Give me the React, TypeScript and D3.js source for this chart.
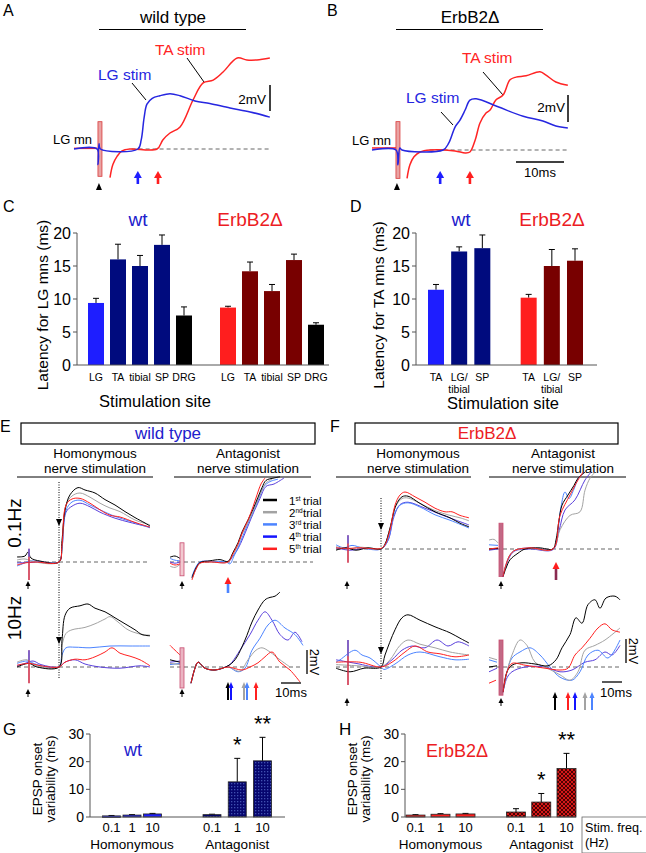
import * as d3 from 'd3'

const FONT = '"Liberation Sans", Arial, Helvetica, sans-serif'

const BLUE = '#1e1eff'
const NAVY = '#000b7e'
const RED = '#ff1e1e'
const DARKRED = '#780000'
const TXT_BLUE = '#2020cc'
const TXT_RED = '#ec1c24'
const TRACE_BLUE = '#2626e0'
const TRACE_RED = '#ff2424'
// trial colours: 1st..5th
const TRIAL = ['#000000', '#a3a3a3', '#4c84ff', '#5a40dc', '#ff2020']
const LEGEND_COL = ['#000000', '#a3a3a3', '#4c84ff', '#1414ff', '#ff2020']
const TRIAL_SUP = ['st', 'nd', 'rd', 'th', 'th']

// ---- panel C: latency for LG mns (ms)
const cSites = ['LG', 'TA', 'tibial', 'SP', 'DRG']
const cWt = [9.4, 16.0, 15.0, 18.2, 7.5]
const cWtTop = [10.1, 18.3, 16.6, 19.7, 8.8]
const cMut = [8.7, 14.2, 11.2, 15.9, 6.1]
const cMutTop = [8.9, 15.6, 12.2, 16.8, 6.4]

// ---- panel D: latency for TA mns (ms)
const dSites = ['TA', 'LG/\ntibial', 'SP']
const dWt = [11.4, 17.2, 17.7]
const dWtTop = [12.2, 17.9, 19.7]
const dMut = [10.2, 15.0, 15.8]
const dMutTop = [10.7, 17.5, 17.6]

// ---- panels G / H: EPSP onset variability (ms)
const freqs = ['0.1', '1', '10']
const gHom = [0.4, 0.7, 1.1]
const gHomTop = [0.55, 0.85, 1.3]
const gAnt = [0.85, 12.7, 20.3]
const gAntTop = [1.0, 21.2, 28.8]
const hHom = [0.7, 1.0, 1.1]
const hHomTop = [0.85, 1.2, 1.3]
const hAnt = [1.8, 5.4, 17.5]
const hAntTop = [3.0, 8.5, 23.0]

// ---- panels A / B traces  [ms, mV]
const aBlue = [[[0, 0], [4.8, 0], [5.0, -1.2], [5.2, 0.4], [5.5, 0], [13.3, 0], [14.0, 0.7], [14.6, 2.4], [15.2, 3.45], [16.3, 3.9], [17.9, 4.1], [20, 4.25], [22.1, 4.1], [25.2, 3.7], [28.3, 3.5], [32.5, 3.15], [36.7, 2.85], [40.8, 2.45]]]
const aRed = [[[0, 0.05], [4.8, 0.05]], [[7.5, -2.2], [8.1, -1.2], [9.0, -0.55], [10, -0.15], [11.7, 0], [17.3, 0], [18.5, 0.7], [20, 1.23], [22.1, 1.7], [24.8, 3.77], [26.9, 5.08], [29, 5.3], [31, 5.9], [34, 7.0], [36, 6.85], [38.1, 6.85], [40.8, 7.0]]]
const bBlue = [[[0, 0], [5, 0], [5.4, -1.1], [5.8, 0.15], [6.25, 0], [14.8, 0], [16, 0.52], [17.3, 1.7], [18.3, 2.2], [19.4, 2.96], [20.4, 3.7], [21.7, 3.8], [26.25, 3.2], [31.5, 2.5], [35.6, 2.15], [38.3, 1.78], [40.8, 1.63]]]
const bRed = [[[0, 0.15], [5, 0.15]], [[7.3, -2.1], [7.9, -1.1], [8.75, -0.5], [10, -0.15], [12.1, 0], [17.3, -0.07], [19.4, -0.22], [20.4, -0.15], [21.5, 0.74], [22.5, 2.0], [23.75, 2.74], [24.6, 2.96], [25.8, 3.7], [27.3, 4.07], [28.75, 5.2], [30, 5.4], [32.1, 5.5], [35, 5.8], [36.25, 5.55], [38.3, 5.04], [40.8, 4.8]]]
const aOnsets = [13.3, 17.5]
const bOnsets = [14.2, 20.4]

// ---- panels E / F traces, one entry per trial (1st..5th), each a list of segments [ms, mV]
const eHom01 = [
  [[[0, 0.42], [4, 0.5], [5.5, 0.83], [7, 0.33], [11.5, 0.08], [21, 0], [22.5, 1.8], [24, 4.3], [26.5, 5.6], [30.5, 6.2], [34, 6.0], [39, 5.75], [44, 5.2], [49, 4.75], [54, 4.2], [59, 3.7], [64, 3.25], [66.5, 3]]],
  [[[0, 0.17], [4, 0.25], [9, 0], [21, 0], [22.5, 1.4], [24.5, 4.75], [27.5, 5.5], [31.5, 5.75], [36.5, 5.4], [41.5, 4.9], [46.5, 4.5], [51.5, 4.2], [59, 3.5], [66.5, 3.1]]],
  [[[0, -0.33], [2.5, -0.17], [6.5, 0.08], [21, 0], [22.5, 1.2], [24.5, 4.3], [27.5, 5.0], [31.5, 5.15], [36.5, 4.75], [41.5, 4.35], [49, 3.8], [56.5, 3.4], [66.5, 2.85]]],
  [[[0, -0.08], [11.5, 0], [21, 0], [22.5, 1.1], [24.5, 4.15], [27.5, 4.65], [31.5, 4.9], [36.5, 4.6], [41.5, 4.15], [49, 3.65], [56.5, 3.3], [66.5, 2.9]]],
  [[[0, -0.25], [4, -0.08], [9, 0], [21, 0], [22.5, 1.4], [24.5, 4.75], [27.5, 5.25], [31.5, 5.3], [36.5, 4.9], [41.5, 4.35], [46.5, 3.9], [51.5, 3.75], [59, 3.3], [66.5, 2.9]]],
]
const eAnt01 = [
  [[[0, 0.4], [2.5, 0.5], [5, 0.3]], [[11, -1.3], [13, -0.5], [15, -0.05], [20, 0.1], [25, 0.2], [29, 0.05], [31.5, 0.8], [34, 1.6], [36, 2.5], [39, 3.5], [41.5, 4.4], [44, 5.4], [46, 6.2], [48, 6.8], [52, 7.0], [55, 7.1]]],
  [[[0, -0.35], [2.5, -0.45], [5, -0.2]], [[11, -1.4], [13, -0.6], [15, -0.1], [20, 0], [29, 0], [31.5, 0.6], [34, 1.4], [36, 2.3], [39, 3.3], [41.5, 4.2], [44, 5.2], [46, 6.0], [48, 6.6], [51, 6.9]]],
  [[[0, 0.3], [2.5, 0.15], [5, 0.1]], [[11, -1.2], [13, -0.4], [15, 0], [20, 0.05], [28, 0], [30, -0.15], [32, 0.5], [34, 1.2], [36.5, 2.2], [39, 3.2], [42, 4.3], [44.5, 5.3], [47, 6.3], [50, 6.7], [54, 6.9]]],
  [[[0, 0], [2.5, -0.1], [5, 0]], [[11, -1.3], [13, -0.5], [15, 0], [20, 0.05], [29, 0], [31.5, 0.5], [34, 1.1], [36.5, 2.0], [39, 3.0], [42, 4.2], [45, 5.3], [48, 6.3], [52, 6.5], [57, 7.0]]],
  [[[0, -0.1], [2.5, -0.25], [5, -0.15]], [[11, -1.5], [13, -0.6], [15, -0.1], [20, 0], [29, 0], [31.5, 0.7], [34, 1.5], [36, 2.4], [39, 3.5], [41.5, 4.6], [43.5, 5.6], [45.5, 6.5], [47.5, 7.0]]],
]
const eHom10 = [
  [[[0, 0], [6, 0.3], [10, 0], [21, 0], [22.5, 2.25], [24, 4.3], [26.5, 4.9], [31.5, 5.1], [35.5, 5.25], [39, 4.9], [44, 4.6], [49, 4.1], [54, 3.6], [59, 3.1], [62.5, 2.7], [66.5, 2.6]]],
  [[[0, 0.4], [5, 0.6], [8, 0.2], [21, 0], [22.5, 1.8], [24.5, 2.8], [27.5, 3.1], [34, 3.3], [39, 3.6], [44, 4], [46.5, 4.2], [50.5, 3.75], [55.5, 3.1], [61.5, 2.75], [66.5, 2.65]]],
  [[[0, 0.3], [5, 0.5], [10, 0.2], [21, 0], [22.5, 1], [24.5, 1.6], [29, 1.65], [36.5, 1.6], [46.5, 1.75], [56.5, 1.75], [66.5, 1.75]]],
  [[[0, 0.1], [4, 0.3], [8, 0.5], [12, 0.2], [21, 0], [24, 0.4], [29, 0.6], [34, 0.25], [41.5, 0], [51.5, -0.1], [61.5, 0.1], [66.5, 0]]],
  [[[0, 0.15], [6, 0.3], [12, 0.1], [21, 0], [24, 0.4], [29, 0.65], [34, 0.6], [39, 0.85], [44, 1.25], [47.5, 1.6], [51.5, 1.15], [56.5, 0.9], [61.5, 0.6], [66.5, 0.1]]],
]
const eAnt10 = [
  [[[0, 0.6], [5, 0.4]], [[10.5, -1.35], [12.5, -0.1], [14, 0.4], [17.5, -0.1], [22.5, -0.25], [29, 0.1], [32.5, 0.6], [37.5, 2.25], [41, 3.75], [44, 4.75], [47.5, 5.6], [50, 5.8], [52.5, 5.9], [55, 6.25]]],
  [[[0, 0.3], [5, 0.2]], [[10.5, -1.35], [12.5, -0.1], [14, 0.4], [17.5, -0.1], [22.5, -0.25], [29, 0], [35, -0.35], [39, 0.6], [43, 1.4], [46, 1.6], [50, 1.25], [55, 0.6], [60, 0]]],
  [[[0, 0.2], [5, 0.3]], [[10.5, -1.35], [12.5, -0.1], [14, 0.4], [17.5, -0.1], [22.5, -0.25], [29, 0], [34, -0.4], [37.5, -0.1], [41, 1.4], [45, 2.4], [49, 3.5], [52.5, 3.9], [57.5, 3.25], [62.5, 2.7], [66.5, 1.8]]],
  [[[0, 0.4], [5, 0.5]], [[10.5, -1.35], [12.5, -0.1], [14, 0.4], [17.5, -0.1], [22.5, -0.25], [29, 0.1], [31, 0.4], [35, 1.4], [40, 2.7], [44, 3.9], [47.5, 4.6], [51, 3.9], [55, 2.7], [59, 2.25], [62.5, 2.9], [66, 2.1]]],
  [[[0, 1.8], [2.5, 1.4], [5, 1.0]], [[10.5, -1.35], [12.5, -0.1], [14, 0.4], [17.5, -0.1], [22.5, -0.25], [29, 0], [36, -0.25], [40, 0], [44, 0.35], [47.5, 0.85], [51, 1.25], [55, 0.4], [60, -0.25], [65, -1.25]]],
]
const fHom01 = [
  [[[0, -0.1], [5, 0.1], [10, -0.1], [16, 0.1], [22.5, 0], [24.5, 0.4], [27, 1.75], [30, 3.65], [33, 4.35], [36, 4.4], [42, 3.8], [49.5, 3.1], [57, 2.6], [62, 2.15], [66.5, 1.85]]],
  [[[0, 0.2], [6, 0], [12, 0.15], [22.5, 0], [24.5, 0.4], [27, 1.7], [30, 3.6], [33, 4.2], [36, 4.25], [42, 3.8], [49.5, 3.2], [57, 2.8], [62, 2.6], [66.5, 2.35]]],
  [[[0, 0.35], [4, 0.1], [8, 0.3], [14, 0.05], [22.5, 0], [26, 0.75], [29, 2.85], [32, 3.65], [36, 3.85], [42, 3.5], [49.5, 2.85], [57, 2.4], [66.5, 1.75]]],
  [[[0, 0.1], [7, -0.1], [14, 0.05], [22.5, 0], [26, 0.7], [29, 2.7], [32, 3.7], [36, 3.9], [44.5, 3.4], [52, 2.9], [60, 2.4], [66.5, 2]]],
  [[[0, 0.1], [6, 0.05], [12, 0.1], [22.5, 0.05], [24.5, 0.35], [27, 1.6], [29.5, 3.65], [32, 4.5], [34.5, 4.75], [39.5, 4.35], [44.5, 3.9], [49.5, 3.4], [54.5, 3.1], [58, 3.1], [62, 2.8], [66.5, 2.6]]],
]
const fAnt01 = [
  [[[0, 0], [4.5, 0.05]], [[7, -2.3], [8.5, -1.6], [10.5, -0.9], [14.5, -0.35], [18, 0], [25, 0.1], [32, 0], [33.5, 0.75], [35, 2.4], [36.5, 3.65], [39.5, 4.5], [42.5, 5.3], [44.5, 5.9], [48, 6.4]]],
  [[[0, 0.75], [2.5, 0.8], [4.5, 0.5]], [[7, -2.3], [8.5, -1.3], [10.5, -0.5], [13, -0.1], [20.5, 0.05], [32, 0], [35.5, 1.6], [40.5, 2.8], [45.5, 3.1], [48, 4.9], [50.5, 5.9], [53, 6.4]]],
  [[[0, 0.35], [4.5, 0.3]], [[7, -2.3], [8.5, -1.3], [10.5, -0.5], [13, -0.1], [20.5, 0.1], [32, 0], [34, 1], [36, 3.5], [38, 4.75], [40, 4.2], [42.5, 5.0], [45, 6], [48, 6.4]]],
  [[[0, -0.1], [4.5, 0]], [[7, -2.3], [8.5, -1.4], [10.5, -0.6], [13, -0.15], [20.5, 0], [32, -0.05], [35, 1.5], [38, 3.25], [43, 4.1], [48, 5.75], [51, 6.4]]],
  [[[0, 0], [4.5, 0.1]], [[7, -2.3], [8.5, -1.3], [10.5, -0.5], [13, -0.1], [20.5, 0.1], [32, 0], [35.5, 2.8], [40.5, 4.5], [44.5, 5.75], [47, 6.4]]],
]
const fHom10 = [
  [[[0, -0.1], [7, -0.4], [14, -0.1], [22.5, 0], [24.5, 1], [29.5, 3.1], [33, 4.1], [36, 4.35], [42, 3.9], [49.5, 3.35], [57, 2.85], [62, 2.4], [66.5, 2]]],
  [[[0, 0.2], [11, 0.1], [22.5, 0], [27, 0.6], [32, 1.8], [36, 2.25], [42, 1.9], [49.5, 1.6], [57, 1.25], [66.5, 1]]],
  [[[0, 0.4], [2, 0.6], [9.5, 1.4], [13, 1.0], [17, 0.75], [22.5, 0], [24, -0.2], [29.5, 0.25], [36, 1], [42, 1.25], [52, 0.85], [59.5, 0.6], [66.5, 0.65]]],
  [[[0, 0.6], [10, 0.3], [22.5, 0], [28, 0.6], [33, 1.4], [38, 1.75], [44.5, 1.6], [50.5, 2.25], [56, 1.75], [61, 2.1], [66.5, 1.75]]],
  [[[0, 0.4], [12, 0.4], [22.5, 0], [28, 0.4], [34.5, 1.25], [39.5, 1.75], [46, 1.25], [52, 1.1], [59.5, 0.85], [66.5, 1]]],
]
const fAnt10 = [
  [[[0, 0], [4, 0.1]], [[7, -2.1], [9, -0.4], [11.5, 0.15], [16.5, 0.35], [23, 0.25], [29.5, 0.1], [33.5, 0.6], [36.5, 1.6], [40.5, 2.7], [43.5, 4.1], [46.5, 3.65], [49.5, 5.2], [53, 5.6], [55.5, 4.9], [58.5, 5.75], [63, 5.9], [65.5, 5.6]]],
  [[[0, 0.8], [4, 0.6]], [[7, -2.1], [9, -0.4], [11.5, 1], [15.5, 2.25], [19, 1.8], [23, 0.4], [28, 0], [35.5, -0.65], [40.5, -1.1], [44.5, -0.4], [48, 1.4], [53, 1.8], [58, 2.25], [65.5, 3.25]]],
  [[[0, 0.6], [4, 0.4]], [[7, -2.1], [9, -0.4], [11.5, 0.75], [15.5, 1.25], [20.5, 1.6], [25.5, 1], [30.5, 0], [35.5, -0.85], [41.5, -1.1], [45.5, -0.4], [49.5, 1], [54.5, 1.4], [59.5, 0.75], [65.5, 2.25]]],
  [[[0, -0.4], [4, -0.1]], [[7, -2.1], [9, -0.9], [11.5, -0.4], [18, 0], [28, 0], [35.5, -0.4], [41.5, -0.25], [48, 0.4], [53, 0.6], [58, 1.25], [61.5, 1], [65.5, 1.8]]],
  [[[0, -1.35], [3.5, -1.1]], [[7, -2.1], [9, -0.4], [11.5, 0.3], [18, 0.15], [28, -0.1], [35.5, -0.25], [39.5, -0.1], [43, 1], [46.5, 1.6], [50.5, 2.4], [54.5, 3.25], [58, 3.6], [61.5, 3.1], [65.5, 2.9]]],
]
// EPSP onsets marked by arrows (ms), by trial
const eAntOnset01 = 29
const fAntOnset01 = 33.5
const eAntOnsets10 = [29, 37, 38.5, 30.5, 43]
const fAntOnsets10 = [33, 48, 51.5, 43, 39.5]

const curve = d3.curveCatmullRom.alpha(0.5)
const lineGen = (x, y) => d3.line().x(d => x(d[0])).y(d => y(d[1])).curve(curve)

// E/F trace scales: 2 px per ms, 12 px per mV
const efScales = (x0, base) => ({
  x: d3.scaleLinear().domain([0, 70]).range([x0, x0 + 140]),
  y: d3.scaleLinear().domain([0, 10]).range([base, base - 120]),
})

function UpArrow({ x, y1, y2, color, shaft, w = 6, h = 7, sw = 2 }) {
  return (
    <g>
      <line x1={x} x2={x} y1={y1 + h - 1} y2={y2} stroke={shaft || color} strokeWidth={sw} />
      <path d={`M${x - w / 2},${y1 + h} L${x},${y1} L${x + w / 2},${y1 + h} Z`} fill={color} />
    </g>
  )
}

function SmallHead({ x, y }) {
  return (
    <g>
      <path d={`M${x - 2.5},${y + 5} L${x},${y} L${x + 2.5},${y + 5} Z`} fill="#000" />
      <line x1={x} x2={x} y1={y + 4} y2={y + 8} stroke="#000" strokeWidth={1} />
    </g>
  )
}

function DownHead({ x, y }) {
  return <path d={`M${x - 3},${y} L${x + 3},${y} L${x},${y + 7} Z`} fill="#000" />
}

function TraceGroup({ x0, base, data, dashEnd, art, artRect, width = 1 }) {
  const { x, y } = efScales(x0, base)
  const gen = lineGen(x, y)
  const order = [3, 2, 1, 0, 4]
  return (
    <g>
      <line x1={x(0)} x2={x(dashEnd)} y1={y(0)} y2={y(0)} stroke="#555" strokeWidth={0.9} strokeDasharray="4,3" />
      {order.map(i => data[i].map((s, j) => (
        <path key={i + '-' + j} d={gen(s)} fill="none" stroke={TRIAL[i]} strokeWidth={width} />
      )))}
      {artRect ? (
        <rect x={x(art[0]) - 2} width={4} y={y(art[1])} height={y(art[2]) - y(art[1])} fill={artRect} stroke="#c0305a" strokeWidth={0.8} opacity={0.85} />
      ) : (
        <g>
          <line x1={x(art[0])} x2={x(art[0])} y1={y(art[1])} y2={y(art[2])} stroke="#d0304a" strokeWidth={1.6} />
          <line x1={x(art[0])} x2={x(art[0])} y1={y(art[1])} y2={y(art[1] * 0.4)} stroke="#4c6cff" strokeWidth={1.2} />
        </g>
      )}
    </g>
  )
}

function LatencyPanel({ axisX, axisEnd, first, last, sites, wt, wtTop, mut, mutTop, lastBlack, yLabel, labelX }) {
  const y = d3.scaleLinear().domain([0, 20]).range([365, 233])
  const keys = [...sites.map(s => 'w' + s), 'gap', ...sites.map(s => 'm' + s)]
  const x = d3.scalePoint().domain(keys).range([first, last])
  const bw = 16
  const n = sites.length
  const colorOf = (i, mutant) => i === 0 ? (mutant ? RED : BLUE) : (lastBlack && i === n - 1 ? '#000' : (mutant ? DARKRED : NAVY))
  const bars = [
    ...wt.map((v, i) => ({ k: 'w' + sites[i], v, top: wtTop[i], c: colorOf(i, false), s: sites[i] })),
    ...mut.map((v, i) => ({ k: 'm' + sites[i], v, top: mutTop[i], c: colorOf(i, true), s: sites[i] })),
  ]
  return (
    <g>
      {bars.map(b => {
        const cx = x(b.k)
        return (
          <g key={b.k}>
            <line x1={cx} x2={cx} y1={y(b.v)} y2={y(b.top)} stroke="#000" strokeWidth={1} />
            <line x1={cx - 3} x2={cx + 3} y1={y(b.top)} y2={y(b.top)} stroke="#000" strokeWidth={1} />
            <rect x={cx - bw / 2} width={bw} y={y(b.v)} height={y(0) - y(b.v)} fill={b.c} />
            {b.s.split('\n').map((t, li) => (
              <text key={li} x={cx} y={381 + li * 12} fontSize={10.5} textAnchor="middle">{t}</text>
            ))}
          </g>
        )
      })}
      <line x1={axisX} x2={axisX} y1={y(0)} y2={y(20)} stroke="#555" strokeWidth={1} />
      <line x1={axisX} x2={axisEnd} y1={y(0)} y2={y(0)} stroke="#555" strokeWidth={1} />
      {y.ticks(4).map(t => (
        <g key={t}>
          <line x1={axisX - 4} x2={axisX} y1={y(t)} y2={y(t)} stroke="#555" />
          <text x={axisX - 6} y={y(t) + 5.5} fontSize={16} textAnchor="end">{t}</text>
        </g>
      ))}
      <text transform={`translate(${labelX},305) rotate(-90)`} fontSize={15.5} textAnchor="middle">{yLabel}</text>
    </g>
  )
}

function VarPanel({ axisX, axisEnd, homRange, antRange, hom, homTop, ant, antTop, homFill, antFill, bw }) {
  const y = d3.scaleLinear().domain([0, 30]).range([817, 734])
  const xh = d3.scalePoint().domain(freqs).range(homRange)
  const xa = d3.scalePoint().domain(freqs).range(antRange)
  const bar = (cx, v, top, fill, k) => (
    <g key={k}>
      <line x1={cx} x2={cx} y1={y(v)} y2={y(top)} stroke="#000" strokeWidth={1} />
      <line x1={cx - 3} x2={cx + 3} y1={y(top)} y2={y(top)} stroke="#000" strokeWidth={1} />
      <rect x={cx - bw / 2} width={bw} y={y(v)} height={Math.max(1.5, y(0) - y(v))} fill={fill} stroke="#222" strokeWidth={0.8} />
    </g>
  )
  return (
    <g>
      {freqs.map((f, i) => bar(xh(f), hom[i], homTop[i], homFill, 'h' + f))}
      {freqs.map((f, i) => bar(xa(f), ant[i], antTop[i], antFill, 'a' + f))}
      <line x1={axisX} x2={axisX} y1={y(0)} y2={y(30)} stroke="#555" />
      <line x1={axisX} x2={axisEnd} y1={y(0)} y2={y(0)} stroke="#555" />
      {y.ticks(3).map(t => (
        <g key={t}>
          <line x1={axisX - 4} x2={axisX} y1={y(t)} y2={y(t)} stroke="#555" />
          <text x={axisX - 6} y={y(t) + 5} fontSize={14} textAnchor="end">{t}</text>
        </g>
      ))}
      {freqs.map(f => <text key={'th' + f} x={xh(f)} y={832} fontSize={13} textAnchor="middle">{f}</text>)}
      {freqs.map(f => <text key={'ta' + f} x={xa(f)} y={832} fontSize={13} textAnchor="middle">{f}</text>)}
      <text x={(homRange[0] + homRange[1]) / 2} y={849} fontSize={13.5} textAnchor="middle">Homonymous</text>
      <text x={(antRange[0] + antRange[1]) / 2} y={849} fontSize={13.5} textAnchor="middle">Antagonist</text>
      <text x={xa('1')} y={y(antTop[1]) - 6} fontSize={22} textAnchor="middle">*</text>
      <text x={xa('10')} y={y(antTop[2]) - 6} fontSize={22} textAnchor="middle">**</text>
      <text transform={`translate(${axisX - 48},779) rotate(-90)`} fontSize={13.5} textAnchor="middle">EPSP onset</text>
      <text transform={`translate(${axisX - 35},779) rotate(-90)`} fontSize={13.5} textAnchor="middle">variability (ms)</text>
    </g>
  )
}

function ABPanel({ x0, base, pxPerMv, blue, red, onsets, artT, barX, barTop, mvTextX, mvTextY, timeBar }) {
  const x = d3.scaleLinear().domain([0, 41]).range([x0, x0 + 41 * 4.8])
  const y = d3.scaleLinear().domain([0, 1]).range([base, base - pxPerMv])
  const gen = lineGen(x, y)
  return (
    <g>
      <line x1={x(12)} x2={x(40.8)} y1={y(0)} y2={y(0)} stroke="#555" strokeWidth={0.9} strokeDasharray="4,3" />
      <rect x={x(artT) - 1} width={4} y={y(2.1)} height={y(-2.1) - y(2.1)} fill="#e9a3a3" stroke="#d83a3a" strokeWidth={0.8} />
      {red.map((s, i) => <path key={'r' + i} d={gen(s)} fill="none" stroke={TRACE_RED} strokeWidth={1.5} />)}
      {blue.map((s, i) => <path key={'b' + i} d={gen(s)} fill="none" stroke={TRACE_BLUE} strokeWidth={1.5} />)}
      <line x1={barX} x2={barX} y1={barTop} y2={barTop + (y(0) - y(2))} stroke="#000" strokeWidth={1.5} />
      <text x={mvTextX} y={mvTextY} fontSize={13.5} textAnchor="end">2mV</text>
      {timeBar && (
        <g>
          <line x1={x(30)} x2={x(40)} y1={162} y2={162} stroke="#000" strokeWidth={1.5} />
          <text x={x(35)} y={177} fontSize={13} textAnchor="middle">10ms</text>
        </g>
      )}
      <path d={`M${x(artT) - 3},190 L${x(artT)},183 L${x(artT) + 3},190 Z`} fill="#000" />
      <UpArrow x={x(onsets[0])} y1={171} y2={184} color={BLUE} w={8} h={7} sw={2.6} />
      <UpArrow x={x(onsets[1])} y1={171} y2={184} color={RED} w={8} h={7} sw={2.6} />
    </g>
  )
}

export default function App() {
  const eH01 = efScales(17, 562)
  const eA01 = efScales(170, 562)
  const eA10 = efScales(170, 667)
  const fA01 = efScales(489, 549)
  const fA10 = efScales(489, 667)
  const fH01 = efScales(336, 549)
  const eHomX = eH01.x(21)
  const fHomX = fH01.x(22.5)
  return (
    <svg width={646} height={853} style={{ position: 'absolute', left: 0, top: 0 }} fontFamily={FONT}>
      <defs>
        <pattern id="navyDots" width="3" height="3" patternUnits="userSpaceOnUse">
          <rect width="3" height="3" fill="#06066e" />
          <rect width="1.3" height="1.3" fill="#4050b0" />
        </pattern>
        <pattern id="redHatch" width="4" height="4" patternUnits="userSpaceOnUse">
          <rect width="4" height="4" fill="#d41818" />
          <path d="M0,0 L4,4 M4,0 L0,4" stroke="#3c0000" strokeWidth="0.9" />
        </pattern>
      </defs>
      <rect width={646} height={853} fill="#fff" />

      {/* A */}
      <text x={3} y={16} fontSize={16}>A</text>
      <text x={173} y={23} fontSize={17} textAnchor="middle">wild type</text>
      <line x1={99} x2={246} y1={29.5} y2={29.5} stroke="#000" strokeWidth={1.2} />
      <text x={53} y={144} fontSize={13}>LG mn</text>
      <text x={98} y={80} fontSize={15.5} fill={TRACE_BLUE}>LG stim</text>
      <text x={155} y={55} fontSize={15.5} fill={TRACE_RED}>TA stim</text>
      <line x1={132} x2={146} y1={83} y2={100} stroke="#000" />
      <line x1={187} x2={204} y1={58} y2={82} stroke="#000" />
      <ABPanel x0={74} base={149} pxPerMv={13} blue={aBlue} red={aRed} onsets={aOnsets} artT={5.2}
        barX={270} barTop={85} mvTextX={266} mvTextY={104} timeBar={false} />

      {/* B */}
      <text x={327} y={16} fontSize={16}>B</text>
      <text x={470} y={23} fontSize={17} textAnchor="middle">ErbB2Δ</text>
      <line x1={396} x2={543} y1={29.5} y2={29.5} stroke="#000" strokeWidth={1.2} />
      <text x={352} y={145} fontSize={13}>LG mn</text>
      <text x={406} y={103} fontSize={15.5} fill={TRACE_BLUE}>LG stim</text>
      <text x={462} y={63} fontSize={15.5} fill={TRACE_RED}>TA stim</text>
      <line x1={441} x2={453} y1={112} y2={125} stroke="#000" />
      <line x1={483} x2={503} y1={72} y2={95} stroke="#000" />
      <ABPanel x0={372} base={150} pxPerMv={13.5} blue={bBlue} red={bRed} onsets={bOnsets} artT={5.2}
        barX={568} barTop={95} mvTextX={565} mvTextY={112} timeBar={true} />

      {/* C */}
      <text x={3} y={212} fontSize={16}>C</text>
      <text x={138} y={226} fontSize={19} fill={TXT_BLUE} textAnchor="middle">wt</text>
      <text x={250} y={226} fontSize={19} fill={TXT_RED} textAnchor="middle">ErbB2Δ</text>
      <LatencyPanel axisX={77} axisEnd={329} first={96} last={316} sites={cSites} wt={cWt} wtTop={cWtTop}
        mut={cMut} mutTop={cMutTop} lastBlack={true} yLabel="Latency for LG mns (ms)" labelX={48} />
      <text x={155} y={407} fontSize={16.5} textAnchor="middle">Stimulation site</text>

      {/* D */}
      <text x={350} y={212} fontSize={16}>D</text>
      <text x={461} y={226} fontSize={19} fill={TXT_BLUE} textAnchor="middle">wt</text>
      <text x={552} y={226} fontSize={19} fill={TXT_RED} textAnchor="middle">ErbB2Δ</text>
      <LatencyPanel axisX={416} axisEnd={597} first={436} last={575} sites={dSites} wt={dWt} wtTop={dWtTop}
        mut={dMut} mutTop={dMutTop} lastBlack={false} yLabel="Latency for TA mns (ms)" labelX={384} />
      <text x={503} y={409} fontSize={16.5} textAnchor="middle">Stimulation site</text>

      {/* E */}
      <text x={0} y={432} fontSize={16}>E</text>
      <rect x={21} y={423} width={294} height={21} fill="none" stroke="#000" strokeWidth={1.2} />
      <text x={168} y={439} fontSize={17} fill={TXT_BLUE} textAnchor="middle">wild type</text>
      {/* F */}
      <text x={330} y={432} fontSize={16}>F</text>
      <rect x={355} y={423} width={263} height={21} fill="none" stroke="#000" strokeWidth={1.2} />
      <text x={487} y={439} fontSize={17} fill={TXT_RED} textAnchor="middle">ErbB2Δ</text>

      {[[95, 17, 153], [248, 174, 311], [418, 336, 471], [563, 489, 626]].map(([cx, a, b], i) => (
        <g key={i}>
          <text x={cx} y={458} fontSize={13.5} textAnchor="middle">{i % 2 === 0 ? 'Homonymous' : 'Antagonist'}</text>
          <text x={cx} y={473} fontSize={13.5} textAnchor="middle">nerve stimulation</text>
          <line x1={a} x2={b} y1={477} y2={477} stroke="#000" strokeWidth={1} />
        </g>
      ))}
      <text transform="translate(21,523) rotate(-90)" fontSize={19} textAnchor="middle">0.1Hz</text>
      <text transform="translate(21,618) rotate(-90)" fontSize={19} textAnchor="middle">10Hz</text>

      {/* dotted onset lines */}
      <line x1={eHomX} x2={eHomX} y1={482} y2={678} stroke="#000" strokeWidth={1} strokeDasharray="1,1.5" />
      <line x1={fHomX} x2={fHomX} y1={498} y2={680} stroke="#000" strokeWidth={1} strokeDasharray="1,1.5" />
      <DownHead x={eHomX} y={519} />
      <DownHead x={eHomX} y={637} />
      <DownHead x={fHomX} y={523} />
      <DownHead x={fHomX} y={647} />

      <TraceGroup x0={17} base={562} data={eHom01} dashEnd={66.5} art={[6, 1.1, -1.5]} />
      <TraceGroup x0={170} base={562} data={eAnt01} dashEnd={71.5} art={[6, 1.6, -1.15]} artRect="#f0c0c8" />
      <TraceGroup x0={17} base={667} data={eHom10} dashEnd={66.5} art={[6, 1.4, -1.35]} />
      <TraceGroup x0={170} base={667} data={eAnt10} dashEnd={66} art={[6, 1.6, -1.75]} artRect="#e8a8b8" />
      <TraceGroup x0={336} base={549} data={fHom01} dashEnd={66.5} art={[6, 1.15, -1.15]} />
      <TraceGroup x0={489} base={549} data={fAnt01} dashEnd={65.5} art={[6, 2.15, -2.3]} artRect="#b85070" />
      <TraceGroup x0={336} base={667} data={fHom10} dashEnd={66.5} art={[6, 2.25, -1.5]} />
      <TraceGroup x0={489} base={667} data={fAnt10} dashEnd={65.5} art={[6, 2.25, -2.35]} artRect="#b85070" />

      {/* stimulus marks */}
      <SmallHead x={eH01.x(5.5)} y={581} />
      <SmallHead x={eA01.x(6)} y={581} />
      <SmallHead x={eH01.x(5.5)} y={689} />
      <SmallHead x={eA01.x(6)} y={689} />
      <SmallHead x={fH01.x(5.5)} y={581} />
      <SmallHead x={fA01.x(6)} y={581} />
      <SmallHead x={fH01.x(5.5)} y={698} />
      <SmallHead x={fA01.x(6)} y={698} />

      {/* onset arrows */}
      <UpArrow x={eA01.x(eAntOnset01)} y1={577} y2={593} color={RED} shaft="#4c84ff" w={7} sw={2.6} />
      <UpArrow x={fA01.x(fAntOnset01)} y1={562} y2={580} color={RED} shaft="#8a2a50" w={7} sw={2.6} />
      {eAntOnsets10.map((t, i) => <UpArrow key={'ea' + i} x={eA10.x(t)} y1={682} y2={700} color={LEGEND_COL[i]} w={5} h={6} />)}
      {fAntOnsets10.map((t, i) => <UpArrow key={'fa' + i} x={fA10.x(t)} y1={692} y2={710} color={LEGEND_COL[i]} w={5} h={6} />)}

      {/* scale bars E / F */}
      <line x1={307} x2={307} y1={650} y2={650 + eA10.y(0) - eA10.y(2)} stroke="#000" strokeWidth={1.3} />
      <text transform="translate(310,662) rotate(90)" fontSize={13} textAnchor="middle">2mV</text>
      <line x1={eA10.x(55.5)} x2={eA10.x(65.5)} y1={683} y2={683} stroke="#000" strokeWidth={1.3} />
      <text x={291} y={697} fontSize={13} textAnchor="middle">10ms</text>
      <line x1={626} x2={626} y1={639} y2={639 + fA10.y(0) - fA10.y(2)} stroke="#000" strokeWidth={1.3} />
      <text transform="translate(629,651) rotate(90)" fontSize={13} textAnchor="middle">2mV</text>
      <line x1={fA10.x(56.5)} x2={fA10.x(66.5)} y1={682} y2={682} stroke="#000" strokeWidth={1.3} />
      <text x={616} y={697} fontSize={13} textAnchor="middle">10ms</text>

      {/* legend */}
      {LEGEND_COL.map((c, i) => (
        <g key={'lg' + i}>
          <line x1={263} x2={277} y1={500 + i * 12.2} y2={500 + i * 12.2} stroke={c} strokeWidth={2.5} />
          <text x={289} y={504.5 + i * 12.2} fontSize={11.5}>{i + 1}</text>
          <text x={295.5} y={500.5 + i * 12.2} fontSize={6.5}>{TRIAL_SUP[i]}</text>
          <text x={303} y={504.5 + i * 12.2} fontSize={11.5}>trial</text>
        </g>
      ))}

      {/* G */}
      <text x={3} y={735} fontSize={17}>G</text>
      <text x={133} y={756} fontSize={18} fill={TXT_BLUE} textAnchor="middle">wt</text>
      <VarPanel axisX={90} axisEnd={285} homRange={[111.5, 152.5]} antRange={[212, 262.5]} hom={gHom} homTop={gHomTop}
        ant={gAnt} antTop={gAntTop} homFill={BLUE} antFill="url(#navyDots)" bw={18} />

      {/* H */}
      <text x={339} y={735} fontSize={17}>H</text>
      <text x={457} y={757} fontSize={18} fill={TXT_RED} textAnchor="middle">ErbB2Δ</text>
      <VarPanel axisX={405} axisEnd={576} homRange={[415.5, 465.5]} antRange={[516, 566.5]} hom={hHom} homTop={hHomTop}
        ant={hAnt} antTop={hAntTop} homFill={RED} antFill="url(#redHatch)" bw={19} />
      <rect x={582} y={817} width={70} height={36} fill="none" stroke="#666" strokeWidth={0.8} />
      <text x={585} y={832} fontSize={12.6}>Stim. freq.</text>
      <text x={585} y={847} fontSize={12.6}>(Hz)</text>
    </svg>
  )
}
